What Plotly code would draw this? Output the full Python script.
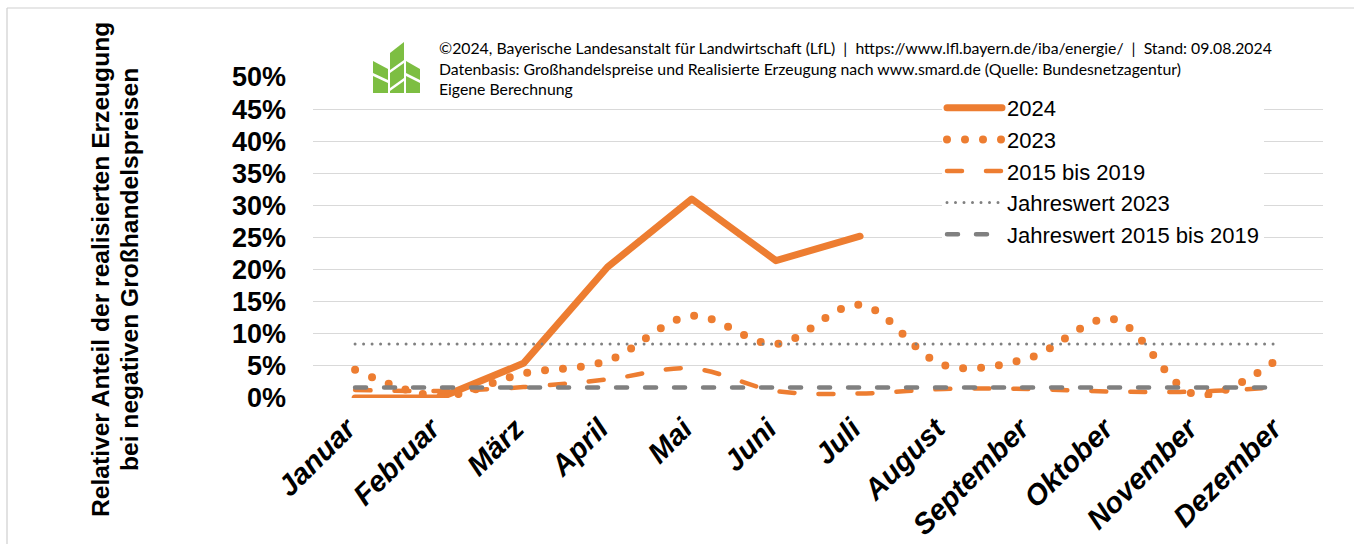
import plotly.graph_objects as go

# ---- data (fractions) ----
months = ["Januar", "Februar", "März", "April", "Mai", "Juni", "Juli",
          "August", "September", "Oktober", "November", "Dezember"]
v2024 = [0.000, 0.000, 0.054, 0.204, 0.310, 0.214, 0.252]
v2023 = [0.044, 0.003, 0.038, 0.058, 0.128, 0.084, 0.145, 0.051, 0.062, 0.123, 0.005, 0.064]
v1519 = [0.0125, 0.011, 0.017, 0.029, 0.046, 0.011, 0.007, 0.014, 0.014, 0.010, 0.010, 0.017]
jw2023 = [0.084, 0.084, 0.084, 0.084, 0.084, 0.084, 0.084, 0.084, 0.084, 0.084, 0.084, 0.084]
jw1519 = [0.0165, 0.0165, 0.0165, 0.0165, 0.0165, 0.0165, 0.0165, 0.0165, 0.0165, 0.0165, 0.0165, 0.0165]
ytickvals = [0.00, 0.05, 0.10, 0.15, 0.20, 0.25, 0.30, 0.35, 0.40, 0.45, 0.50]

ORANGE = "#ED7D31"
GRAY = "#808080"
GREEN = "#7DBE42"

W, H = 1354, 544
PL, PR, PT, PB = 313, 1323, 77, 398  # plot area in pixels


def px(p):
    return (p - PL) / (PR - PL)


def py(p):
    return (PB - p) / (PB - PT)


fig = go.Figure()
fig.add_trace(go.Scatter(x=months[:len(v2024)], y=v2024, name="2024", mode="lines",
                         line=dict(color=ORANGE, width=7)))
fig.add_trace(go.Scatter(x=months, y=v2023, name="2023", mode="lines",
                         line=dict(color=ORANGE, width=8, dash="0px,18px", shape="spline", smoothing=1)))
fig.add_trace(go.Scatter(x=months, y=v1519, name="2015 bis 2019", mode="lines",
                         line=dict(color=ORANGE, width=4.5, dash="15px,24px", shape="spline", smoothing=1)))
fig.add_trace(go.Scatter(x=months, y=jw2023, name="Jahreswert 2023", mode="lines",
                         line=dict(color=GRAY, width=3, dash="0px,8.5px")))
fig.add_trace(go.Scatter(x=months, y=jw1519, name="Jahreswert 2015 bis 2019", mode="lines",
                         line=dict(color=GRAY, width=4.5, dash="11px,18px")))

shapes = []
# white masks over gridlines (header + legend area)
shapes.append(dict(type="rect", xref="paper", yref="paper", x0=px(371), x1=px(1354), y0=py(84), y1=py(68),
                   fillcolor="white", line=dict(width=0), layer="between"))
shapes.append(dict(type="rect", xref="paper", yref="paper", x0=px(918), x1=px(1297), y0=py(254), y1=py(92),
                   fillcolor="white", line=dict(width=0), layer="between"))
# outer frame (left & top)
shapes.append(dict(type="line", xref="paper", yref="paper", x0=px(7), x1=px(7), y0=py(8), y1=py(560),
                   line=dict(color="#CFCFCF", width=1.2)))
shapes.append(dict(type="line", xref="paper", yref="paper", x0=px(7), x1=px(1360), y0=py(8), y1=py(8),
                   line=dict(color="#CFCFCF", width=1.2)))

# logo (decorative)
logo_polys = [
    [(373, 61), (388, 69), (388, 80), (373, 73)],
    [(373, 76), (388, 83), (388, 93), (373, 93)],
    [(390, 53), (404, 42), (404, 60), (390, 70)],
    [(390, 73), (404, 63), (404, 78), (390, 88)],
    [(390, 91), (404, 81), (404, 93), (390, 93)],
    [(406, 61), (420, 69), (420, 80), (406, 73)],
    [(406, 76), (420, 83), (420, 93), (406, 93)],
]
for poly in logo_polys:
    path = "M " + " L ".join(f"{px(a):.5f},{py(b):.5f}" for a, b in poly) + " Z"
    shapes.append(dict(type="path", xref="paper", yref="paper", path=path,
                       fillcolor=GREEN, line=dict(width=0), layer="above"))

annotations = [
    dict(xref="paper", yref="paper", x=px(437), y=py(36), xanchor="left", yanchor="top",
         align="left", showarrow=False,
         text=("©2024, Bayerische Landesanstalt für Landwirtschaft (LfL)\u00a0\u00a0|\u00a0\u00a0"
               "https://www.lfl.bayern.de/iba/energie/\u00a0\u00a0|\u00a0\u00a0Stand: 09.08.2024<br>"
               "Datenbasis: Großhandelspreise und Realisierte Erzeugung nach www.smard.de "
               "(Quelle: Bundesnetzagentur)<br>Eigene Berechnung"),
         font=dict(family="Lato", size=15.8, color="#000000")),
    dict(xref="paper", yref="paper", x=px(100), y=py(270), xanchor="center", yanchor="middle",
         textangle=-90, showarrow=False, text="Relativer Anteil der realisierten Erzeugung",
         font=dict(family="Liberation Sans", size=24.6, color="#000000", weight="bold")),
    dict(xref="paper", yref="paper", x=px(129), y=py(270), xanchor="center", yanchor="middle",
         textangle=-90, showarrow=False, text="bei negativen Großhandelspreisen",
         font=dict(family="Liberation Sans", size=24.6, color="#000000", weight="bold")),
]

fig.update_layout(
    width=W, height=H,
    margin=dict(l=PL, r=W - PR, t=PT, b=H - PB, pad=0, autoexpand=False),
    paper_bgcolor="white", plot_bgcolor="white",
    shapes=shapes, annotations=annotations,
    showlegend=True,
    legend=dict(x=px(942), y=py(87), xanchor="left", yanchor="top", bgcolor="white",
                font=dict(family="Liberation Sans", size=22, color="#000000"),
                itemwidth=55, borderwidth=0, tracegroupgap=0),
    xaxis=dict(type="category", categoryarray=months, range=[-0.5, 11.5],
               showgrid=False, zeroline=False, showline=False, automargin=False,
               tickangle=-45, ticks="", ticklabelstandoff=7, ticklabelshift=-8,
               tickfont=dict(family="Liberation Sans", size=29, color="#000000",
                             weight="bold", style="italic")),
    yaxis=dict(range=[0, 0.5], tickvals=ytickvals, tickformat=".0%", automargin=False,
               showgrid=True, gridcolor="#D9D9D9", gridwidth=1.3, zeroline=False,
               showline=False, ticks="", ticklabelstandoff=26,
               tickfont=dict(family="Liberation Sans", size=27, color="#000000", weight="bold")),
)

post = """
document.body.style.margin='0';
document.body.style.overflow='hidden';
document.querySelectorAll('path.js-line').forEach(function(p){
  p.style.strokeLinecap='round'; p.style.strokeLinejoin='round';
});
"""
fig.write_html("out.html", post_script=post, config={"displayModeBar": False})
